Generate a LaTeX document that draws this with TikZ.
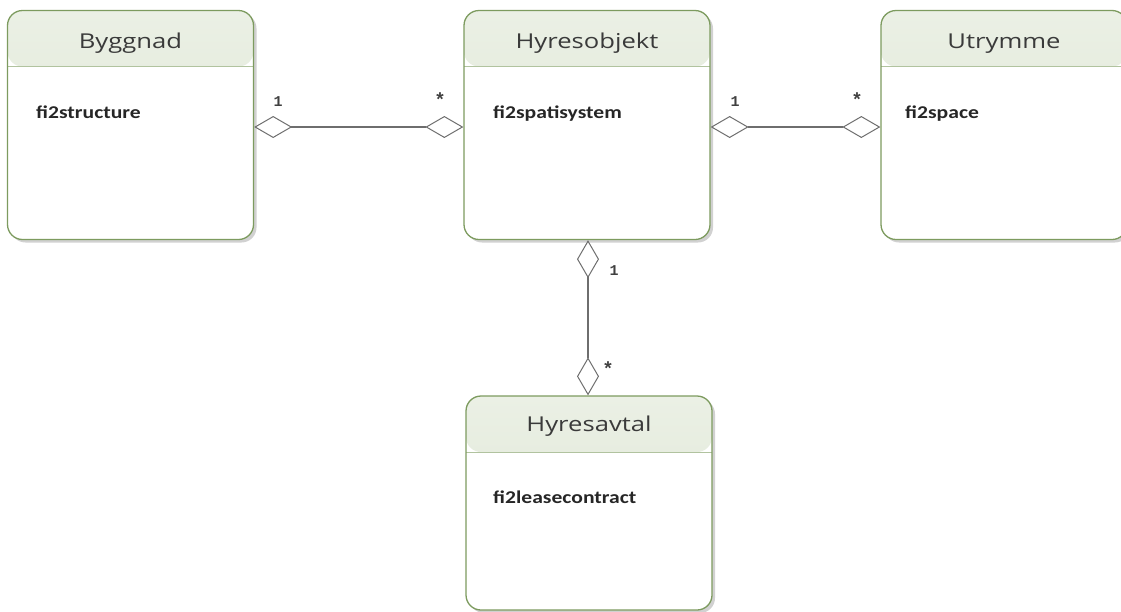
\documentclass[tikz,border=0pt]{standalone}
\usepackage{fontspec}
\setmainfont{Open Sans}
\newfontfamily\titlefont[FakeStretch=1.25]{Open Sans}
\newfontfamily\attrfont[FakeStretch=1.2]{Carlito}
\newfontfamily\multfont{Liberation Mono}
\usetikzlibrary{arrows.meta,shadows}
\definecolor{bordergreen}{HTML}{7D9B5F}
\definecolor{headtop}{HTML}{EBF0E5}
\definecolor{headbot}{HTML}{DCE5D2}
\definecolor{connector}{HTML}{6E6E6E}
\definecolor{titletext}{HTML}{3A3A3A}
\tikzset{
  x=1pt, y=-1pt,
  classbox/.style={draw=bordergreen, line width=1.3pt, rounded corners=15pt,
    fill=white, minimum width=246pt, minimum height=229pt, inner sep=0pt,
    drop shadow={shadow xshift=3pt, shadow yshift=-3pt, fill=black!18, opacity=1},
    path picture={
      \shade[top color=headtop, bottom color=headbot]
        (path picture bounding box.north west) rectangle
        ([yshift=-56pt]path picture bounding box.north east);
      \draw[bordergreen!60, line width=0.6pt]
        ([yshift=-56pt]path picture bounding box.north west) --
        ([yshift=-56pt]path picture bounding box.north east);
    }},
  titletxt/.style={font=\titlefont\fontsize{20.5}{24}\selectfont, text=titletext, anchor=base, inner sep=0pt},
  attrtxt/.style={font=\attrfont\bfseries\fontsize{18}{21}\selectfont, text=black!85, anchor=base west, inner sep=0pt},
  multtxt/.style={font=\multfont\bfseries\fontsize{15}{16}\selectfont, text=black!75, inner sep=0pt},
  startxt/.style={font=\multfont\bfseries\fontsize{19}{20}\selectfont, text=black!75, inner sep=0pt},
  assoc/.style={draw=connector, line width=1.1pt,
    {Diamond[open, length=38pt, width=22pt, line width=1pt]}-{Diamond[open, length=38pt, width=22pt, line width=1pt]}},
}
\begin{document}
\begin{tikzpicture}
\useasboundingbox (0,0) rectangle (1121,611);
% boxes
\node[classbox] (B) at (130.5,125) {};
\node[classbox] (H) at (587,125) {};
\node[classbox] (U) at (1004,125) {};
\node[classbox, minimum height=214pt] (A) at (589,503) {};
% titles
\node[titletxt] (Bt) at (130.5,48) {Byggnad};
\node[titletxt] (Ht) at (587,48) {Hyresobjekt};
\node[titletxt] (Ut) at (1004,48) {Utrymme};
\node[titletxt] (At) at (589,431) {Hyresavtal};
% attributes
\node[attrtxt] (Ba) at (36,118) {fi2structure};
\node[attrtxt] (Ha) at (493,118) {fi2spatisystem};
\node[attrtxt] (Ua) at (905,118) {fi2space};
\node[attrtxt] (Aa) at (493,503) {fi2leasecontract};
% connectors
\draw[assoc] ([yshift=-2pt]B.east) -- ([yshift=-2pt]H.west);
\draw[assoc] ([yshift=-2pt]H.east) -- ([yshift=-2pt]U.west);
\draw[assoc] ([xshift=1pt]H.south) -- ([xshift=-1pt]A.north);
% multiplicities
\node[multtxt] (m1) at (278,102) {1};
\node[startxt] (m2) at (440,100) {*};
\node[multtxt] (m3) at (735,102) {1};
\node[multtxt] (m5) at (614,271) {1};
\node[startxt] (m4) at (857,100) {*};
\node[startxt] (m6) at (608,369) {*};
\end{tikzpicture}
\end{document}
